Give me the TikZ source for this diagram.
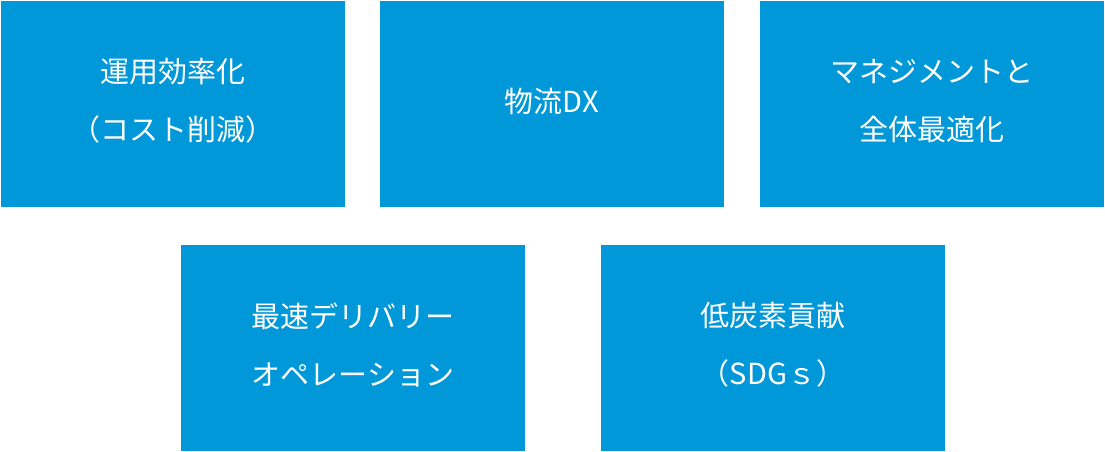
\documentclass[tikz,border=0pt]{standalone}
\usepackage{fontspec}
\newfontfamily\jp{Noto Sans CJK JP}
\definecolor{boxblue}{RGB}{0,152,216}
\begin{document}
\begin{tikzpicture}[x=1pt,y=-1pt,
  tile/.style={fill=boxblue,draw=none},
  lbl/.style={text=white,font=\jp\fontsize{29}{58}\selectfont,align=center}]
\useasboundingbox (0,0) rectangle (1105,452);
\fill[tile] (1,1) rectangle (345,207);
\fill[tile] (380,1) rectangle (724,207);
\fill[tile] (760,1) rectangle (1104,207);
\fill[tile] (181,245) rectangle (525,451);
\fill[tile] (601,245) rectangle (945,451);
\node[lbl] (a) at (173,101) {運用効率化\\（コスト削減）};
\node[lbl] (b) at (552,101) {物流DX};
\node[lbl] (c) at (932,101) {マネジメントと\\全体最適化};
\node[lbl] (d) at (353,345) {最速デリバリー\\オペレーション};
\node[lbl] (e) at (773,345) {低炭素貢献\\（SDGｓ）};
\end{tikzpicture}
\end{document}
